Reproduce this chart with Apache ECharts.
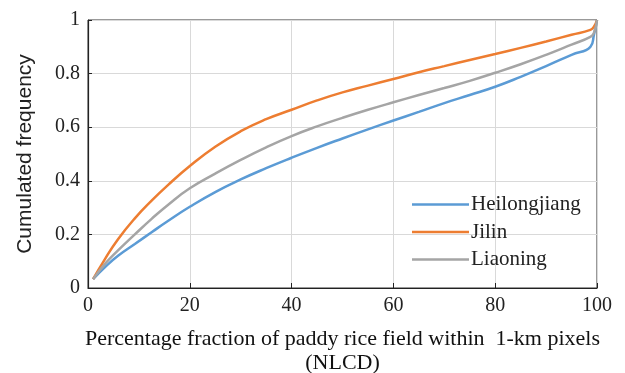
<!DOCTYPE html>
<html>
<head>
<meta charset="utf-8">
<script src="https://cdn.jsdelivr.net/npm/echarts@6/dist/echarts.min.js"></script>
<style>
  html, body { margin: 0; padding: 0; background: #fff; }
  #main { width: 625px; height: 373px; }
</style>
</head>
<body>
<div id="main"></div>
<script>
// percentage fraction of paddy rice (x)
var fraction = [1, 3.3, 5.9, 9.2, 12.5, 15.7, 20, 25, 30, 35, 40, 45, 50, 55, 60, 65, 70, 75, 80, 85, 90, 95, 98.7, 99.4, 100];
var heilongjiang = [0.033, 0.077, 0.12, 0.164, 0.208, 0.25, 0.303, 0.358, 0.405, 0.447, 0.486, 0.523, 0.558, 0.592, 0.625, 0.657, 0.69, 0.72, 0.751, 0.788, 0.828, 0.87, 0.9, 0.945, 1.0];
var jilin = [0.033, 0.107, 0.182, 0.26, 0.326, 0.384, 0.455, 0.527, 0.585, 0.63, 0.665, 0.70, 0.73, 0.755, 0.78, 0.805, 0.828, 0.851, 0.873, 0.896, 0.92, 0.945, 0.963, 0.975, 1.0];
var liaoning = [0.033, 0.089, 0.14, 0.2, 0.258, 0.31, 0.372, 0.427, 0.478, 0.525, 0.567, 0.603, 0.635, 0.665, 0.693, 0.72, 0.746, 0.773, 0.803, 0.835, 0.87, 0.908, 0.937, 0.952, 1.0];
var seriesNames = ['Heilongjiang', 'Jilin', 'Liaoning'];
var colors = ['#5B9BD5', '#ED7D31', '#A5A5A5'];

function pairs(ys) {
  return fraction.map(function (x, i) { return [x, ys[i]]; });
}

var chart = echarts.init(document.getElementById('main'));
var serif = '"Liberation Serif", "DejaVu Serif", serif';

function lineSeries(name, ys) {
  return {
    name: name, type: 'line', data: pairs(ys),
    smooth: 0.5, showSymbol: false,
    lineStyle: { width: 2.5 }
  };
}

var option = {
  animation: false,
  color: colors,
  grid: {
    left: 88, right: 28, top: 20, bottom: 85,
    outerBoundsMode: 'none',
    show: true, borderColor: '#333', borderWidth: 1
  },
  legend: {
    orient: 'vertical',
    left: 407, top: 189,
    icon: 'rect',
    itemWidth: 57, itemHeight: 2.5,
    itemGap: 6.5,
    textStyle: { fontFamily: serif, fontSize: 21, color: '#222', lineHeight: 20, padding: [0, 0, 0, -3] },
    data: seriesNames
  },
  xAxis: {
    type: 'value', min: 0, max: 100, interval: 20,
    name: 'Percentage fraction of paddy rice field within  1-km pixels\n(NLCD)',
    nameLocation: 'middle', nameGap: 39, nameMoveOverlap: false,
    nameTextStyle: { fontFamily: serif, fontSize: 22, color: '#111', lineHeight: 24, verticalAlign: 'top' },
    axisLine: { lineStyle: { color: '#222', width: 1.2 } },
    axisTick: { inside: true, length: 5, lineStyle: { color: '#222' } },
    axisLabel: { fontFamily: serif, fontSize: 20, color: '#222', margin: 8 },
    splitLine: { lineStyle: { color: '#d9d9d9' } }
  },
  yAxis: {
    type: 'value', min: 0, max: 1, interval: 0.2,
    name: 'Cumulated frequency',
    nameLocation: 'middle', nameGap: 52, nameMoveOverlap: false,
    nameTextStyle: { fontFamily: '"Liberation Sans", "DejaVu Sans", sans-serif', fontSize: 21, color: '#222' },
    axisLine: { lineStyle: { color: '#222', width: 1.2 } },
    axisTick: { inside: true, length: 4, lineStyle: { color: '#222' } },
    axisLabel: { fontFamily: serif, fontSize: 20, color: '#222', margin: 8 },
    splitLine: { lineStyle: { color: '#d9d9d9' } }
  },
  series: [
    lineSeries(seriesNames[0], heilongjiang),
    lineSeries(seriesNames[1], jilin),
    lineSeries(seriesNames[2], liaoning)
  ]
};
chart.setOption(option);
</script>
</body>
</html>
